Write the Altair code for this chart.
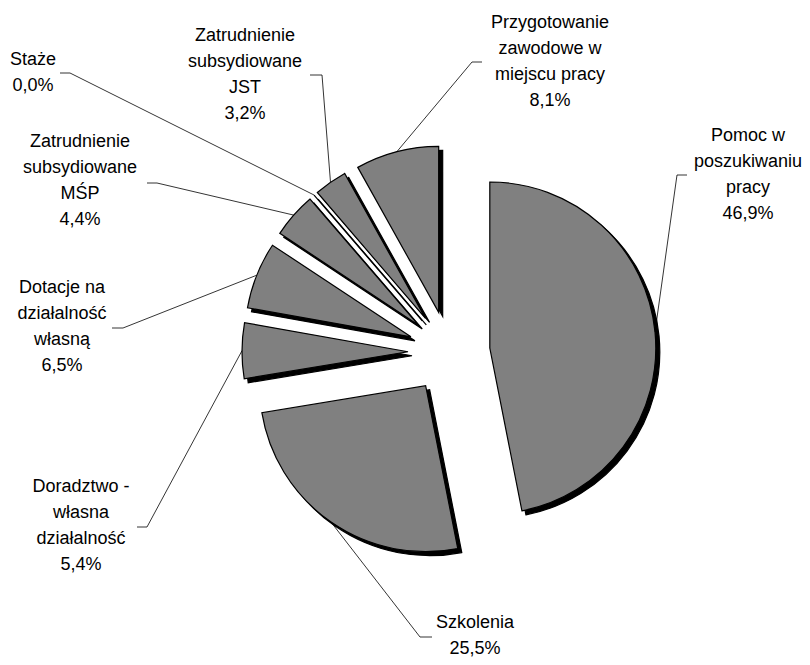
import math
import altair as alt
import pandas as pd

# ---------------- data ----------------
categories = [
    "Pomoc w poszukiwaniu pracy",
    "Szkolenia",
    "Doradztwo - własna działalność",
    "Dotacje na działalność własną",
    "Zatrudnienie subsydiowane MŚP",
    "Staże",
    "Zatrudnienie subsydiowane JST",
    "Przygotowanie zawodowe w miejscu pracy",
]
shares = [46.9, 25.5, 5.4, 6.5, 4.4, 0.0, 3.2, 8.1]
label_names = [
    "Pomoc w\nposzukiwaniu\npracy",
    "Szkolenia",
    "Doradztwo -\nwłasna\ndziałalność",
    "Dotacje na\ndziałalność\nwłasną",
    "Zatrudnienie\nsubsydiowane\nMŚP",
    "Staże",
    "Zatrudnienie\nsubsydiowane\nJST",
    "Przygotowanie\nzawodowe w\nmiejscu pracy",
]

# ---------------- layout (pixels, relative to pie centre) ----------------
W, H = 794, 649
CX, CY = 441, 344          # pie centre inside the plot area
R = 166                    # pie radius
EXPLODE = 41               # explosion distance of every slice
SHADOW = 4
LINE_H = 26
# label block centres and leader elbows / ends (relative to pie centre)
text_pos = [(299, -177), (26, 284), (-368, 174), (-387, -25),
            (-369, -171), (-416, -279), (-204, -277), (101, -290)]
elbow_pos = [(228, -177), (-29, 285), (-302, 175), (-326, -24),
             (-292, -169), (-379, -279), (-127, -277), (23, -290)]
end_pos = [(238, -177), (-17, 285), (-312, 175), (-337, -24),
           (-302, -169), (-389, -279), (-139, -277), (33, -290)]

# ---------------- tables ----------------
rows = []
cum = 0.0
for cat, s in zip(categories, shares):
    start, end = cum, cum + s
    cum = end
    mid = (start + end) / 2 / 100 * 2 * math.pi
    cx = EXPLODE * math.sin(mid)
    cy = -EXPLODE * math.cos(mid)
    rows.append(dict(cat=cat, start=start, end=end, cx=cx, cy=cy,
                     mx=cx + R * math.sin(mid), my=cy - R * math.cos(mid)))
slices = pd.DataFrame(rows)

label_txt = [f"{n}\n{s:.1f}%".replace(".", ",") for n, s in zip(label_names, shares)]
labels = pd.DataFrame({
    "cat": categories,
    "label": label_txt,
    "x": [p[0] for p in text_pos],
    # first line position so that the whole block is centred on the anchor
    "y": [p[1] - (t.count("\n")) * LINE_H / 2 for p, t in zip(text_pos, label_txt)],
})

lead_rows = []
for i, cat in enumerate(categories):
    pts = [(slices.mx[i], slices.my[i]), elbow_pos[i], end_pos[i]]
    for k, (px, py) in enumerate(pts):
        lead_rows.append(dict(cat=cat, k=k, x=px, y=py))
leaders = pd.DataFrame(lead_rows)

xs = alt.Scale(domain=[-CX, W - CX])
ys = alt.Scale(domain=[-CY, H - CY], reverse=True)
X = lambda f: alt.X(f, type="quantitative", scale=xs, axis=None)
Y = lambda f: alt.Y(f, type="quantitative", scale=ys, axis=None)
theta = alt.Theta("start:Q", scale=alt.Scale(domain=[0, 100], range=[0, 2 * math.pi]), stack=None)

shadow = alt.Chart(slices).mark_arc(
    radius=R, fill="black", stroke="black", strokeWidth=1.2,
    xOffset=SHADOW, yOffset=SHADOW,
).encode(x=X("cx"), y=Y("cy"), theta=theta, theta2="end:Q")

pie = alt.Chart(slices).mark_arc(
    radius=R, fill="#808080", stroke="black", strokeWidth=1.2,
).encode(x=X("cx"), y=Y("cy"), theta=theta, theta2="end:Q")

lines = alt.Chart(leaders).mark_line(color="black", strokeWidth=0.8).encode(
    x=X("x"), y=Y("y"), detail="cat:N", order="k:Q")

text = alt.Chart(labels).mark_text(
    align="center", baseline="middle", lineBreak="\n", lineHeight=LINE_H,
    fontSize=18, font="Liberation Sans", color="black",
).encode(x=X("x"), y=Y("y"), text="label:N")

chart = alt.layer(shadow, pie, lines, text).properties(
    width=W, height=H, padding=0, autosize="none"
).configure_view(stroke=None)

chart.save("out.html", embed_options={"renderer": "svg", "actions": False})
